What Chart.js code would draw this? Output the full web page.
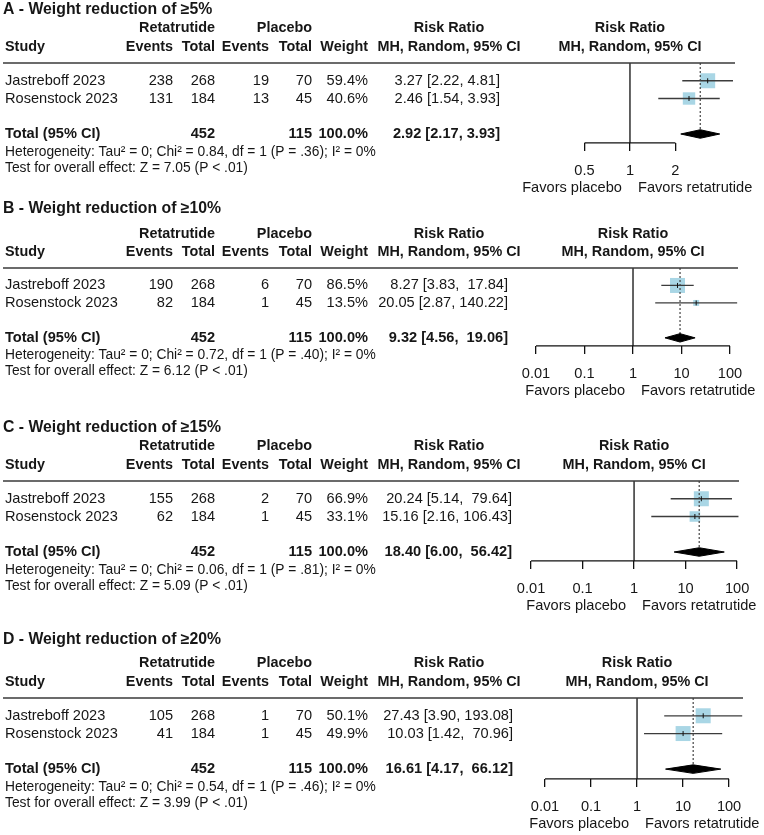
<!DOCTYPE html>
<html>
<head>
<meta charset="utf-8">
<script src="https://cdn.jsdelivr.net/npm/chart.js@4.4.1/dist/chart.umd.min.js"></script>
<style>
  html, body { margin: 0; padding: 0; background: #fff; }
  #wrap { position: relative; width: 764px; height: 835px; overflow: hidden; background: #fff; }
  #wrap canvas { position: absolute; left: 0; }
</style>
</head>
<body>
<div id="wrap"></div>
<script>
// **Data**
const panelTitles = ['A - Weight reduction of ≥5%', 'B - Weight reduction of ≥10%', 'C - Weight reduction of ≥15%', 'D - Weight reduction of ≥20%'];
const studies = ['Jastreboff 2023', 'Rosenstock 2023'];
const retaEvents = [[238, 131], [190, 82], [155, 62], [105, 41]];
const retaTotals = [268, 184];
const placeboEvents = [[19, 13], [6, 1], [2, 1], [1, 1]];
const placeboTotals = [70, 45];
const weights = [[59.4, 40.6], [86.5, 13.5], [66.9, 33.1], [50.1, 49.9]];
const rrEst = [[3.27, 2.46], [8.27, 20.05], [20.24, 15.16], [27.43, 10.03]];
const rrLow = [[2.22, 1.54], [3.83, 2.87], [5.14, 2.16], [3.90, 1.42]];
const rrHigh = [[4.81, 3.93], [17.84, 140.22], [79.64, 106.43], [193.08, 70.96]];
const pooledEst = [2.92, 9.32, 18.40, 16.61];
const pooledLow = [2.17, 4.56, 6.00, 4.17];
const pooledHigh = [3.93, 19.06, 56.42, 66.12];
const hetChi2 = ['0.84', '0.72', '0.06', '0.54'];
const hetP = ['.36', '.40', '.81', '.46'];
const zScores = ['7.05', '6.12', '5.09', '3.99'];
const axisTicks = [[0.5, 1, 2], [0.01, 0.1, 1, 10, 100], [0.01, 0.1, 1, 10, 100], [0.01, 0.1, 1, 10, 100]];
const axisRange = [[0.187, 4.96], [0.00468, 146], [0.0061, 109], [0.00286, 201]];

// **Layout (pixels)**
const FONT = "'Liberation Sans', Arial, Helvetica, sans-serif";
const TEXT = '#161616';
const canvasTop = [-7, 198, 411, 628];
const canvasHeight = [205, 213, 217, 207];
const titleY = [17, 11, 17, 12];
const plotLeft = 520;
const plotRight = [735, 738, 739, 743];
const bottomPad = [7.6, 17.6, 19.6, 8.6];
const rowsMax = [4.5, 4.46, 4.5, 4.55];
const ciRight = [500, 508, 512, 513];
const col = { study: 5, retaEv: 173, retaTot: 215, plcEv: 269, plcTot: 312, weight: 368, ciHead: 449 };

Chart.defaults.font.family = FONT;

function fmt(v) { return v.toFixed(2); }

function ciLabels(i) {
  const highs = rrHigh[i].concat([pooledHigh[i]]).map(fmt);
  const w = Math.max(...highs.map(s => s.length));
  const make = (e, l, h) => `${fmt(e)} [${fmt(l)}, ${fmt(h).padStart(w)}]`;
  return {
    rows: studies.map((s, j) => make(rrEst[i][j], rrLow[i][j], rrHigh[i][j])),
    total: make(pooledEst[i], pooledLow[i], pooledHigh[i])
  };
}

// **Table text, header rule and axis line**
const forestTable = {
  id: 'forestTable',
  afterDraw(chart, args, opts) {
    const i = opts.panel;
    const ctx = chart.ctx;
    const xs = chart.scales.x, ys = chart.scales.y;
    const area = chart.chartArea;
    const Y = v => ys.getPixelForValue(v);
    const text = (s, x, y, align, bold, size) => {
      ctx.font = `${bold ? 'bold ' : ''}${size}px ${FONT}`;
      ctx.textAlign = align;
      ctx.fillText(s, x, y);
    };
    const rule = (x0, y0, x1, y1) => {
      ctx.beginPath(); ctx.moveTo(x0, y0); ctx.lineTo(x1, y1); ctx.stroke();
    };
    const ci = ciLabels(i);
    const x1 = xs.getPixelForValue(1);

    ctx.save();
    ctx.textBaseline = 'middle';
    ctx.fillStyle = TEXT;

    text(panelTitles[i], 3, titleY[i], 'left', true, 15.8);

    const h1 = Y(-1.95), h2 = Y(-0.9);
    text('Retatrutide', col.retaTot, h1, 'right', true, 14.4);
    text('Placebo', col.plcTot, h1, 'right', true, 14.4);
    text('Risk Ratio', col.ciHead, h1, 'center', true, 14.4);
    text('Risk Ratio', x1, h1, 'center', true, 14.4);
    text('Study', col.study, h2, 'left', true, 14.4);
    text('Events', col.retaEv, h2, 'right', true, 14.4);
    text('Total', col.retaTot, h2, 'right', true, 14.4);
    text('Events', col.plcEv, h2, 'right', true, 14.4);
    text('Total', col.plcTot, h2, 'right', true, 14.4);
    text('Weight', col.weight, h2, 'right', true, 14.4);
    text('MH, Random, 95% CI', col.ciHead, h2, 'center', true, 14.4);
    text('MH, Random, 95% CI', x1, h2, 'center', true, 14.4);

    studies.forEach((s, j) => {
      const y = Y(j + 1);
      text(s, col.study, y, 'left', false, 14.6);
      text(String(retaEvents[i][j]), col.retaEv, y, 'right', false, 14.6);
      text(String(retaTotals[j]), col.retaTot, y, 'right', false, 14.6);
      text(String(placeboEvents[i][j]), col.plcEv, y, 'right', false, 14.6);
      text(String(placeboTotals[j]), col.plcTot, y, 'right', false, 14.6);
      text(weights[i][j].toFixed(1) + '%', col.weight, y, 'right', false, 14.6);
      text(ci.rows[j], ciRight[i], y, 'right', false, 14.6);
    });

    const yt = Y(4);
    text('Total (95% CI)', col.study, yt, 'left', true, 14.6);
    text(String(retaTotals.reduce((a, b) => a + b, 0)), col.retaTot, yt, 'right', true, 14.6);
    text(String(placeboTotals.reduce((a, b) => a + b, 0)), col.plcTot, yt, 'right', true, 14.6);
    text('100.0%', col.weight, yt, 'right', true, 14.6);
    text(ci.total, ciRight[i], yt, 'right', true, 14.6);

    text(`Heterogeneity: Tau² = 0; Chi² = ${hetChi2[i]}, df = 1 (P = ${hetP[i]}); I² = 0%`, col.study, Y(5.0), 'left', false, 13.8);
    text(`Test for overall effect: Z = ${zScores[i]} (P < .01)`, col.study, Y(5.9), 'left', false, 13.8);

    text('Favors placebo', x1 - 8, area.bottom + 45, 'right', false, 14.6);
    text('Favors retatrutide', x1 + 8, area.bottom + 45, 'left', false, 14.6);

    ctx.strokeStyle = '#3a3a3a';
    ctx.lineWidth = 1.6;
    rule(3, Y(0), area.right, Y(0));

    const t = axisTicks[i];
    ctx.strokeStyle = '#111';
    ctx.lineWidth = 1.3;
    rule(xs.getPixelForValue(t[0]), area.bottom, xs.getPixelForValue(t[t.length - 1]), area.bottom);
    ctx.restore();
  }
};

// **Build one forest panel**
function createPanel(i) {
  const canvas = document.createElement('canvas');
  canvas.width = 764;
  canvas.height = canvasHeight[i];
  canvas.style.top = canvasTop[i] + 'px';
  document.getElementById('wrap').appendChild(canvas);

  const maxW = Math.max(...weights[i]);
  const boxRadius = weights[i].map(w => 15 * Math.sqrt(w / maxW) / Math.SQRT2);
  const est = pooledEst[i];

  const datasets = [
    {   // pooled diamond
      data: [{ x: pooledLow[i], y: 4 }, { x: est, y: 3.76 }, { x: pooledHigh[i], y: 4 }, { x: est, y: 4.24 }, { x: pooledLow[i], y: 4 }],
      showLine: true, fill: 'shape', backgroundColor: '#000', borderColor: '#000', borderWidth: 1, pointRadius: 0
    },
    {   // line of no effect
      data: [{ x: 1, y: 0 }, { x: 1, y: rowsMax[i] }],
      showLine: true, borderColor: '#111', borderWidth: 1.3, pointRadius: 0
    },
    {   // pooled estimate
      data: [{ x: est, y: 0 }, { x: est, y: 4 }],
      showLine: true, borderColor: '#444', borderWidth: 1.2, borderDash: [2, 2], pointRadius: 0
    },
    {   // point estimate marks
      data: studies.map((s, j) => ({ x: rrEst[i][j], y: j + 1 })),
      pointStyle: 'line', pointRotation: 90, pointRadius: 2.5, pointBorderWidth: 1, pointBorderColor: '#111'
    }
  ];
  studies.forEach((s, j) => {
    datasets.push({
      data: [{ x: rrLow[i][j], y: j + 1 }, { x: rrHigh[i][j], y: j + 1 }],
      showLine: true, borderColor: '#3c3c3c', borderWidth: 1.3, pointRadius: 0
    });
  });
  datasets.push({   // weighted boxes
    data: studies.map((s, j) => ({ x: rrEst[i][j], y: j + 1 })),
    pointStyle: 'rect', pointRadius: boxRadius, pointBackgroundColor: '#a9d6e5', pointBorderWidth: 0
  });

  return new Chart(canvas.getContext('2d'), {
    type: 'scatter',
    data: { datasets },
    options: {
      responsive: false,
      animation: false,
      events: [],
      layout: { padding: { left: plotLeft, right: 764 - plotRight[i], top: 70, bottom: bottomPad[i] } },
      plugins: { legend: { display: false }, tooltip: { enabled: false }, forestTable: { panel: i } },
      scales: {
        x: {
          type: 'logarithmic', bounds: 'data', min: axisRange[i][0], max: axisRange[i][1],
          afterBuildTicks: axis => { axis.ticks = axisTicks[i].map(v => ({ value: v })); },
          ticks: { callback: v => String(v), color: TEXT, font: { size: 14.6 }, padding: 11, autoSkip: false, maxRotation: 0 },
          grid: { drawOnChartArea: false, drawTicks: true, tickLength: 8, color: '#111', lineWidth: 1.3 },
          border: { display: false }
        },
        y: { type: 'linear', reverse: true, min: 0, max: rowsMax[i], display: false }
      }
    },
    plugins: [forestTable]
  });
}

panelTitles.forEach((t, i) => createPanel(i));
</script>
</body>
</html>
